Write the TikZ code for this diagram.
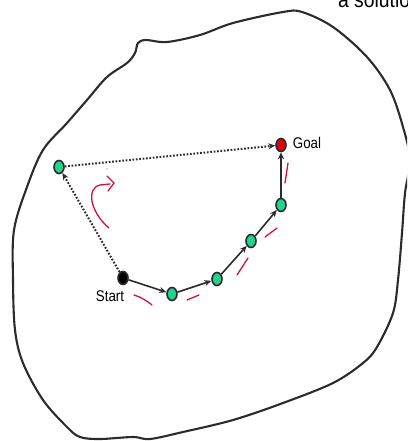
\documentclass[tikz,border=0pt]{standalone}
\usepackage{fontspec}
\setmainfont{Liberation Sans}
\usepackage{xcolor}
\usepackage{tikz}
\usetikzlibrary{arrows.meta,shapes.geometric,positioning,calc}

\definecolor{nodegreen}{HTML}{22D38E}
\definecolor{goalred}{HTML}{E00010}
\definecolor{inkgray}{HTML}{2B2B2B}
\definecolor{penred}{HTML}{D4103C}

\tikzset{
  state/.style={ellipse, draw=inkgray, line width=1.6pt, fill=nodegreen,
    minimum width=10pt, minimum height=13pt, inner sep=0pt},
  startstate/.style={state, fill=black},
  goalstate/.style={state, fill=goalred},
  stepline/.style={draw=inkgray, line width=1.6pt, -{Stealth[length=7pt,width=6pt]}},
  jumpline/.style={draw=inkgray, line width=2pt, dash pattern=on 1.7pt off 1.7pt,
    -{Stealth[length=7pt,width=6pt]}},
  pen/.style={draw=penred, line width=1.3pt, line cap=round},
  lbl/.style={font=\fontsize{15.5}{16}\selectfont, xscale=0.86, inner sep=0pt}
}

\begin{document}
\begin{tikzpicture}[x=1pt,y=-1pt]
\useasboundingbox (0,0) rectangle (407,441);
\clip (0,0) rectangle (407,441);

% the search space
\draw[inkgray, line width=2.1pt] plot[smooth cycle, tension=0.55] coordinates {
  (138,43) (146,40) (167,42) (200,35) (233,23) (283,12) (302,12) (333,27)
  (367,57) (390,90) (403,127) (410,160) (405,193) (402,233) (398,280)
  (393,313) (377,347) (363,363) (333,383) (283,403) (233,420) (183,432)
  (150,439) (133,437) (100,439) (80,437) (67,427) (43,400) (23,363)
  (15,330) (13,280) (14,230) (27,187) (43,150) (67,123) (87,100)
  (107,77) (127,63) (135,53)};

\node[anchor=base west, font=\fontsize{22}{22}\selectfont, xscale=0.88]
  (Caption) at (335,8) {a solution};

% states
\node[startstate] (Start) at (123,278) {};
\node[state] (StepA) at (172,294) {};
\node[state] (StepB) at (217,279) {};
\node[state] (StepC) at (251,241) {};
\node[state] (StepD) at (281,205) {};
\node[goalstate] (Goal) at (281,145) {};
\node[state] (Jump) at (59,167) {};

\node[lbl] (StartLabel) at (110,296) {Start};
\node[lbl] (GoalLabel) at (307,143) {Goal};

% step by step path
\draw[stepline] (Start) -- (StepA);
\draw[stepline] (StepA) -- (StepB);
\draw[stepline] (StepB) -- (StepC);
\draw[stepline] (StepC) -- (StepD);
\draw[stepline] (StepD) -- (Goal);

% shortcut
\draw[jumpline] (Start) -- (Jump);
\draw[jumpline] (Jump) -- (Goal);

% pen marks
\draw[pen] (109,228) .. controls (90,212) and (86,188) .. (100,185) -- (110,184);
\draw[pen] (107,176) -- (114,183) -- (108,191);
\fill[penred] (107,169) circle (0.7pt);
\draw[pen] (134,295) .. controls (141,297) and (147,301) .. (152,305);
\draw[pen] (187,300) -- (199,295);
\draw[pen] (237,275) -- (248,258);
\draw[pen] (265,237) -- (277,228);
\draw[pen] (285,183) -- (288,163);

\end{tikzpicture}
\end{document}
